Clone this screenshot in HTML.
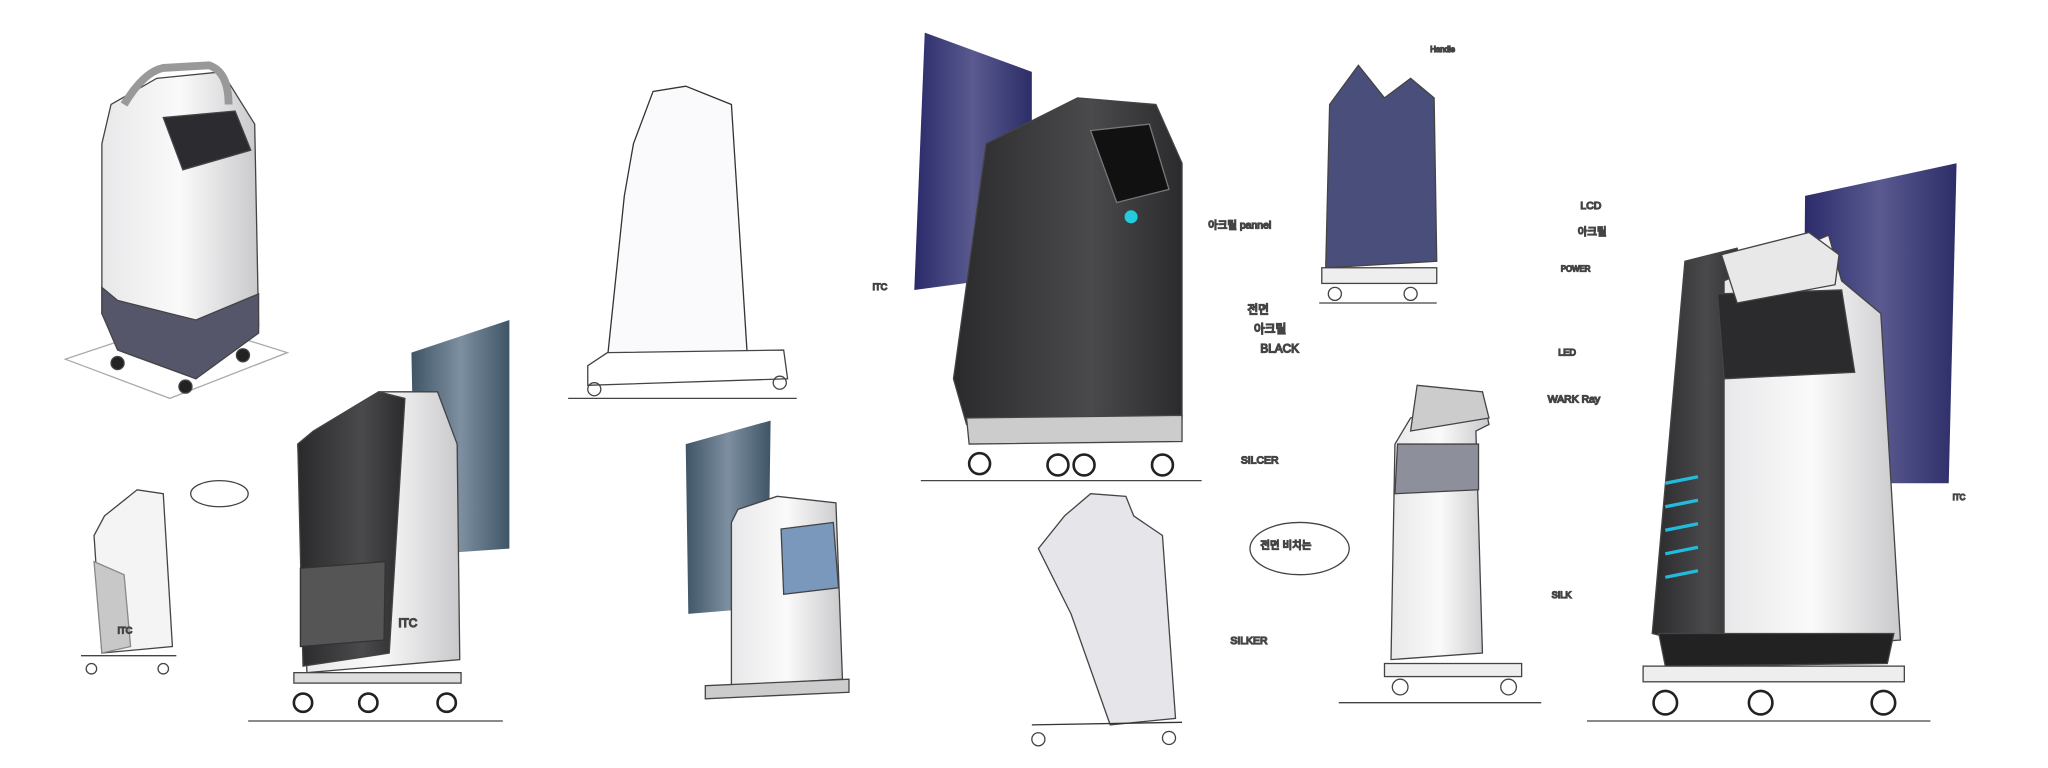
<!DOCTYPE html>
<html><head><meta charset="utf-8"><style>
html,body{margin:0;padding:0;background:#fff;width:2048px;height:768px;overflow:hidden}
svg{display:block}
text{font-family:"Liberation Sans","Noto Sans CJK KR",sans-serif;fill:#333}
</style></head><body>
<svg width="2048" height="768" viewBox="0 0 1568 588" preserveAspectRatio="none">
<defs>
<linearGradient id="wh" x1="0" x2="1"><stop offset="0" stop-color="#e8e8ea"/><stop offset=".5" stop-color="#fafafa"/><stop offset="1" stop-color="#c9c9cc"/></linearGradient>
<linearGradient id="bk" x1="0" x2="1"><stop offset="0" stop-color="#2a2a2c"/><stop offset=".6" stop-color="#4a4a4d"/><stop offset="1" stop-color="#2b2b2d"/></linearGradient>
<linearGradient id="nv" x1="0" x2="1"><stop offset="0" stop-color="#2a2a6a"/><stop offset=".5" stop-color="#5a5a90"/><stop offset="1" stop-color="#2d2d68"/></linearGradient>
<linearGradient id="sl" x1="0" x2="1"><stop offset="0" stop-color="#3f5566"/><stop offset=".5" stop-color="#7d8fa0"/><stop offset="1" stop-color="#3f5566"/></linearGradient>
</defs>
<g stroke="#444" stroke-width="1" fill="none">
<path d="M50 275 L130 305 L220 270 L140 245 Z" stroke="#aaa"/>
<path d="M85 80 L120 60 L170 55 L195 95 L198 250 L150 290 L90 265 L78 240 L78 110 Z" fill="url(#wh)"/>
<path d="M78 220 L90 230 L150 245 L198 225 L198 255 L150 290 L90 268 L78 240 Z" fill="#55566a"/>
<path d="M125 90 L180 85 L192 115 L140 130 Z" fill="#2c2c30"/>
<path d="M95 80 Q110 55 125 52 L160 50 Q175 55 175 80" stroke="#999" stroke-width="6"/>
<circle cx="90" cy="278" r="5" fill="#222"/><circle cx="142" cy="296" r="5" fill="#222"/><circle cx="186" cy="272" r="5" fill="#222"/>
<path d="M315 270 L390 245 L390 420 L318 425 Z" fill="url(#sl)" stroke="none"/>
<path d="M240 330 L290 300 L335 300 L350 340 L352 505 L235 515 L228 340 Z" fill="url(#wh)"/>
<path d="M240 330 L290 300 L310 305 L298 500 L232 510 L228 340 Z" fill="url(#bk)"/>
<path d="M230 435 L295 430 L294 490 L230 495 Z" fill="#555" stroke="#333"/>
<rect x="225" y="515" width="128" height="8" fill="#ddd"/>
<g fill="#fff" stroke="#222" stroke-width="2"><circle cx="232" cy="538" r="7"/><circle cx="282" cy="538" r="7"/><circle cx="342" cy="538" r="7"/></g>
<line x1="190" y1="552" x2="385" y2="552"/>
<text x="305" y="480" font-size="9">ITC</text>
<path d="M80 395 L105 375 L125 378 L132 495 L78 500 L72 410 Z" fill="#f4f4f4"/>
<path d="M72 430 L95 440 L100 495 L78 500 Z" fill="#c8c8c8" stroke="#888"/>
<line x1="62" y1="502" x2="135" y2="502"/>
<circle cx="70" cy="512" r="4"/><circle cx="125" cy="512" r="4"/>
<text x="90" y="485" font-size="7">ITC</text>
<ellipse cx="168" cy="378" rx="22" ry="10"/>
<path d="M485 110 L500 70 L525 66 L560 80 L572 270 L465 275 L478 150 Z" fill="#fafafd" stroke="#333"/>
<path d="M450 280 L465 270 L600 268 L603 290 L450 295 Z" fill="#fff"/>
<circle cx="455" cy="298" r="5"/><circle cx="597" cy="293" r="5"/>
<line x1="435" y1="305" x2="610" y2="305"/>
<path d="M525 340 L590 322 L588 465 L527 470 Z" fill="url(#sl)" stroke="none"/>
<path d="M565 390 L595 380 L640 385 L645 520 L560 525 L560 400 Z" fill="url(#wh)"/>
<path d="M598 405 L638 400 L642 450 L600 455 Z" fill="#7a98bb"/>
<path d="M540 525 L650 520 L650 530 L540 535 Z" fill="#ccc"/>
<path d="M708 25 L790 55 L790 210 L700 222 Z" fill="url(#nv)" stroke="none"/>
<path d="M755 110 L825 75 L885 80 L905 125 L905 320 L740 325 L730 290 Z" fill="url(#bk)"/>
<path d="M835 100 L880 95 L895 145 L855 155 Z" fill="#111" stroke="#777"/>
<circle cx="866" cy="166" r="5" fill="#2cd" stroke="none"/>
<path d="M740 320 L905 318 L905 338 L742 340 Z" fill="#ccc"/>
<g fill="#fff" stroke="#222" stroke-width="2"><circle cx="750" cy="355" r="8"/><circle cx="810" cy="356" r="8"/><circle cx="830" cy="356" r="8"/><circle cx="890" cy="356" r="8"/></g>
<line x1="705" y1="368" x2="920" y2="368"/>
<text x="925" y="175" font-size="8">아크릴 pannel</text>
<text x="668" y="222" font-size="7">ITC</text>
<path d="M815 395 L835 378 L862 380 L868 395 L890 410 L900 550 L850 555 L820 470 L795 420 Z" fill="#e6e6ea"/>
<path d="M790 555 L905 553" stroke="#333"/>
<circle cx="795" cy="566" r="5"/><circle cx="895" cy="565" r="5"/>
<path d="M1040 50 L1060 75 L1080 60 L1098 75 L1100 200 L1015 205 L1018 80 Z" fill="#4a4e7a"/>
<rect x="1012" y="205" width="88" height="12" fill="#eee"/>
<circle cx="1022" cy="225" r="5"/><circle cx="1080" cy="225" r="5"/>
<line x1="1010" y1="232" x2="1100" y2="232"/>
<text x="955" y="240" font-size="9">전면</text><text x="960" y="255" font-size="9">아크릴</text><text x="965" y="270" font-size="9">BLACK</text>
<text x="1095" y="40" font-size="6">Handle</text>
<path d="M1080 320 L1135 300 L1140 325 L1130 330 L1135 500 L1065 505 L1068 340 Z" fill="url(#wh)"/>
<path d="M1085 295 L1135 300 L1140 320 L1080 330 Z" fill="#ccc"/>
<path d="M1070 340 L1132 340 L1132 375 L1068 378 Z" fill="#8d8f9a"/>
<rect x="1060" y="508" width="105" height="10" fill="#eee"/>
<circle cx="1072" cy="526" r="6"/><circle cx="1155" cy="526" r="6"/>
<line x1="1025" y1="538" x2="1180" y2="538"/>
<ellipse cx="995" cy="420" rx="38" ry="20"/>
<text x="965" y="420" font-size="8">전면 비치는</text>
<text x="942" y="493" font-size="8">SILKER</text>
<text x="950" y="355" font-size="8">SILCER</text>
<text x="1185" y="308" font-size="8">WARK Ray</text>
<path d="M1382 150 L1498 125 L1492 370 L1380 370 Z" fill="url(#nv)" stroke="none"/>
<path d="M1290 200 L1330 190 L1335 225 L1325 500 L1265 485 Z" fill="url(#bk)"/>
<path d="M1320 215 L1400 180 L1410 215 L1440 240 L1455 490 L1320 500 Z" fill="url(#wh)"/>
<path d="M1315 225 L1410 222 L1420 285 L1320 290 Z" fill="#2b2b2d"/>
<path d="M1318 195 L1385 178 L1408 195 L1405 218 L1330 232 Z" fill="#e8e8e8"/>
<path d="M1270 485 L1450 485 L1445 508 L1275 510 Z" fill="#222"/>
<rect x="1258" y="510" width="200" height="12" fill="#eee"/>
<g stroke="#2bd" stroke-width="2.5"><line x1="1275" y1="370" x2="1300" y2="365"/><line x1="1275" y1="388" x2="1300" y2="383"/><line x1="1275" y1="406" x2="1300" y2="401"/><line x1="1275" y1="424" x2="1300" y2="419"/><line x1="1275" y1="442" x2="1300" y2="437"/></g>
<g fill="#fff" stroke="#222" stroke-width="2"><circle cx="1275" cy="538" r="9"/><circle cx="1348" cy="538" r="9"/><circle cx="1442" cy="538" r="9"/></g>
<line x1="1215" y1="552" x2="1478" y2="552"/>
<text x="1210" y="160" font-size="8">LCD</text><text x="1208" y="180" font-size="8">아크릴</text>
<text x="1195" y="208" font-size="6">POWER</text>
<text x="1193" y="272" font-size="7">LED</text>
<text x="1188" y="458" font-size="7">SILK</text>
<text x="1495" y="383" font-size="6">ITC</text>
</g>
</svg>
</body></html>
